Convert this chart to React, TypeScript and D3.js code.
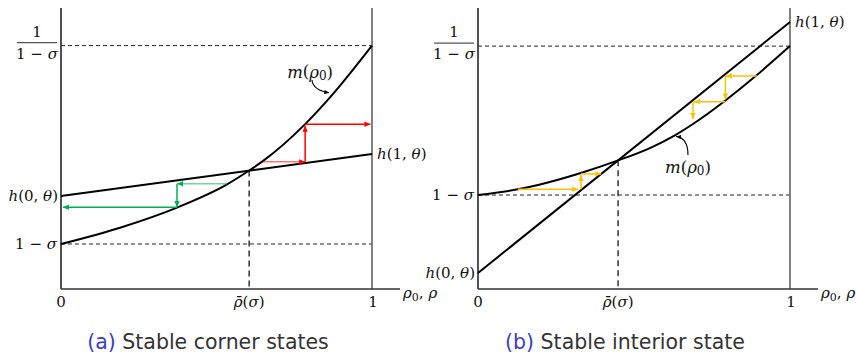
import React from "react";
import * as d3 from "d3";

type Pt = [number, number];

// ---------- Panel (a): stable corner states ----------
const sigmaA = 0.57;
const hA: Pt = [0.889, 1.29]; // h(0,θ), h(1,θ)
const rhoBarA = 0.605;
const mA: Pt[] = [
  [0, 0.43], [0.19, 0.586], [0.373, 0.778], [0.534, 1.0], [0.605, 1.132],
  [0.65, 1.224], [0.785, 1.575], [0.865, 1.831], [1, 2.326],
];
// dynamics pushed towards ρ = 1
const upPathA: Pt[][] = [
  [[0.65, 1.215], [0.785, 1.215]],
  [[0.785, 1.215], [0.785, 1.56]],
  [[0.785, 1.574], [0.995, 1.574]],
];
// dynamics pushed towards ρ = 0
const downPathA: Pt[][] = [
  [[0.534, 1.005], [0.373, 1.005]],
  [[0.373, 1.005], [0.373, 0.784]],
  [[0.373, 0.781], [0.006, 0.781]],
];

// ---------- Panel (b): stable interior state ----------
const sigmaB = 0.378;
const hB: Pt = [0.106, 1.767];
const rhoBarB = 0.449;
const mB: Pt[] = [
  [0, 0.622], [0.128, 0.66], [0.199, 0.692], [0.327, 0.766], [0.449, 0.851],
  [0.551, 0.933], [0.631, 1.017], [0.689, 1.092], [0.792, 1.246], [0.888, 1.406], [1, 1.608],
];
const lowPathB: Pt[][] = [
  [[0.128, 0.66], [0.321, 0.66]],
  [[0.33, 0.66], [0.33, 0.755]],
  [[0.33, 0.762], [0.395, 0.762]],
];
const highPathB: Pt[][] = [
  [[0.894, 1.41], [0.795, 1.41]],
  [[0.793, 1.41], [0.793, 1.255]],
  [[0.792, 1.24], [0.692, 1.24]],
  [[0.689, 1.24], [0.689, 1.125]],
];

const RED = "#ff0000";
const GREEN = "#00b050";
const GOLD = "#ffc000";

const MATH_FONT = "'DejaVu Serif', 'Liberation Serif', serif";
const SANS_FONT = "'DejaVu Sans', sans-serif";

type Cobweb = { color: string; marker: string; segs: Pt[][]; fadeFirst?: boolean };

type PanelProps = {
  x0: number;
  x1: number;
  yMax: number;
  sigma: number;
  h: Pt;
  rhoBar: number;
  m: Pt[];
  cobwebs: Cobweb[];
  mLabel: Pt;
  mArrow: [Pt, Pt, Pt];
  captionTag: string;
  captionText: string;
  captionX: number;
};

const I = ({ children }: { children: React.ReactNode }) => (
  <tspan fontStyle="italic">{children}</tspan>
);

function Panel(p: PanelProps) {
  const x = d3.scaleLinear().domain([0, 1]).range([p.x0, p.x1]);
  const y = d3.scaleLinear().domain([0, p.yMax]).range([289, 8]);
  const lo = 1 - p.sigma;
  const hi = 1 / (1 - p.sigma);

  const curve = d3
    .line<Pt>()
    .x((d) => x(d[0]))
    .y((d) => y(d[1]))
    .curve(d3.curveMonotoneX);
  const straight = d3
    .line<Pt>()
    .x((d) => x(d[0]))
    .y((d) => y(d[1]));

  const ap = d3.path();
  ap.moveTo(x(p.mArrow[0][0]), y(p.mArrow[0][1]));
  ap.quadraticCurveTo(
    x(p.mArrow[1][0]), y(p.mArrow[1][1]),
    x(p.mArrow[2][0]), y(p.mArrow[2][1])
  );

  const yAxisX = x(0);
  const labelRight = yAxisX - 4;
  const fracCx = yAxisX - 24;
  const tickY = y(0) + 13;

  return (
    <g>
      {/* dashed reference levels */}
      <line x1={x(0)} x2={x(1)} y1={y(hi)} y2={y(hi)} stroke="#222" strokeWidth={1} strokeDasharray="4 3" />
      <line x1={x(0)} x2={x(1)} y1={y(lo)} y2={y(lo)} stroke="#222" strokeWidth={1} strokeDasharray="4 3" />
      <line
        x1={x(p.rhoBar)} x2={x(p.rhoBar)}
        y1={y(p.h[0] + (p.h[1] - p.h[0]) * p.rhoBar)} y2={y(0)}
        stroke="#333" strokeWidth={1.5} strokeDasharray="6 4"
      />

      {/* frame */}
      <line x1={x(1)} x2={x(1)} y1={y(p.yMax)} y2={y(0)} stroke="#6b6b6b" strokeWidth={1.7} />
      <line x1={yAxisX} x2={yAxisX} y1={y(p.yMax)} y2={y(0)} stroke="#333" strokeWidth={1.7} />
      <line x1={x(0)} x2={x(1) + 28} y1={y(0)} y2={y(0)} stroke="#333" strokeWidth={1.7} />

      {/* h(ρ, θ) and m(ρ0) */}
      <path d={straight([[0, p.h[0]], [1, p.h[1]]]) || ""} fill="none" stroke="#000" strokeWidth={2} />
      <path d={curve(p.m) || ""} fill="none" stroke="#000" strokeWidth={2} />

      {/* cobweb arrows */}
      {p.cobwebs.map((c, ci) =>
        c.segs.map((s, si) => (
          <path
            key={`${ci}-${si}`}
            d={straight(s) || ""}
            fill="none"
            stroke={c.color}
            strokeOpacity={c.fadeFirst && si === 0 ? 0.55 : 1}
            strokeWidth={1.5}
            markerEnd={`url(#${c.marker})`}
          />
        ))
      )}

      {/* m(ρ0) annotation */}
      <path d={ap.toString()} fill="none" stroke="#000" strokeWidth={1.1} markerEnd="url(#ah-black)" />
      <text
        x={x(p.mLabel[0])} y={y(p.mLabel[1])}
        fontFamily={MATH_FONT} fontSize={16.5} textAnchor="middle" dominantBaseline="central" fill="#111"
      >
        <I>m</I>(<I>ρ</I>
        <tspan fontSize={12} dy={4}>0</tspan>
        <tspan dy={-4}>)</tspan>
      </text>

      {/* y-side labels */}
      <g fontFamily={MATH_FONT} fontSize={15} fill="#111">
        <text x={fracCx} y={y(hi) - 9} textAnchor="middle">1</text>
        <line x1={fracCx - 20} x2={fracCx + 20} y1={y(hi) - 3} y2={y(hi) - 3} stroke="#555" strokeWidth={1.3} />
        <text x={fracCx} y={y(hi) + 13} textAnchor="middle">
          1 − <I>σ</I>
        </text>
        <text x={labelRight} y={y(lo)} textAnchor="end" dominantBaseline="central">
          1 − <I>σ</I>
        </text>
        <text x={labelRight + 1} y={y(p.h[0])} textAnchor="end" dominantBaseline="central">
          <I>h</I>(0, <I>θ</I>)
        </text>
        <text x={x(1) + 5} y={y(p.h[1])} dominantBaseline="central">
          <I>h</I>(1, <I>θ</I>)
        </text>

        {/* x-side labels */}
        <text x={x(0)} y={tickY} textAnchor="middle" dominantBaseline="central">0</text>
        <text x={x(p.rhoBar)} y={tickY} textAnchor="middle" dominantBaseline="central">
          <I>ρ̄</I>(<I>σ</I>)
        </text>
        <text x={x(1) + 1} y={tickY} textAnchor="middle" dominantBaseline="central">1</text>
        <text x={x(1) + 31} y={y(0) + 4} dominantBaseline="central">
          <I>ρ</I>
          <tspan fontSize={11} dy={4}>0</tspan>
          <tspan dy={-4}>, </tspan>
          <I>ρ</I>
        </text>
      </g>

      {/* caption */}
      <text x={p.captionX} y={349} fontFamily={SANS_FONT} fontSize={20.5} textAnchor="middle" fill="#333">
        <tspan fill="#3e3ebf">{p.captionTag}</tspan> {p.captionText}
      </text>
    </g>
  );
}

const Marker = ({ id, color, size = 1 }: { id: string; color: string; size?: number }) => (
  <marker
    id={id}
    viewBox="0 0 10 10"
    refX={10}
    refY={5}
    markerWidth={8 * size}
    markerHeight={6 * size}
    markerUnits="userSpaceOnUse"
    orient="auto"
  >
    <path d="M0,0.5 L10,5 L0,9.5 z" fill={color} />
  </marker>
);

export default function App() {
  return (
    <svg
      width={856}
      height={355}
      style={{ position: "absolute", left: 0, top: 0, background: "#fff" }}
    >
      <defs>
        <Marker id="ah-red" color={RED} />
        <Marker id="ah-green" color={GREEN} />
        <Marker id="ah-gold" color={GOLD} />
        <Marker id="ah-black" color="#000" size={0.8} />
      </defs>
      <rect x={0} y={0} width={856} height={355} fill="#fff" />

      <Panel
        x0={61}
        x1={372}
        yMax={2.685}
        sigma={sigmaA}
        h={hA}
        rhoBar={rhoBarA}
        m={mA}
        cobwebs={[
          { color: RED, marker: "ah-red", segs: upPathA, fadeFirst: true },
          { color: GREEN, marker: "ah-green", segs: downPathA, fadeFirst: true },
        ]}
        mLabel={[0.801, 2.074]}
        mArrow={[[0.807, 1.997], [0.81, 1.9], [0.862, 1.875]]}
        captionTag="(a)"
        captionText="Stable corner states"
        captionX={208}
      />
      <Panel
        x0={478}
        x1={790}
        yMax={1.86}
        sigma={sigmaB}
        h={hB}
        rhoBar={rhoBarB}
        m={mB}
        cobwebs={[
          { color: GOLD, marker: "ah-gold", segs: lowPathB },
          { color: GOLD, marker: "ah-gold", segs: highPathB },
        ]}
        mLabel={[0.673, 0.807]}
        mArrow={[[0.673, 0.887], [0.673, 1.0], [0.635, 1.01]]}
        captionTag="(b)"
        captionText="Stable interior state"
        captionX={625}
      />
    </svg>
  );
}
